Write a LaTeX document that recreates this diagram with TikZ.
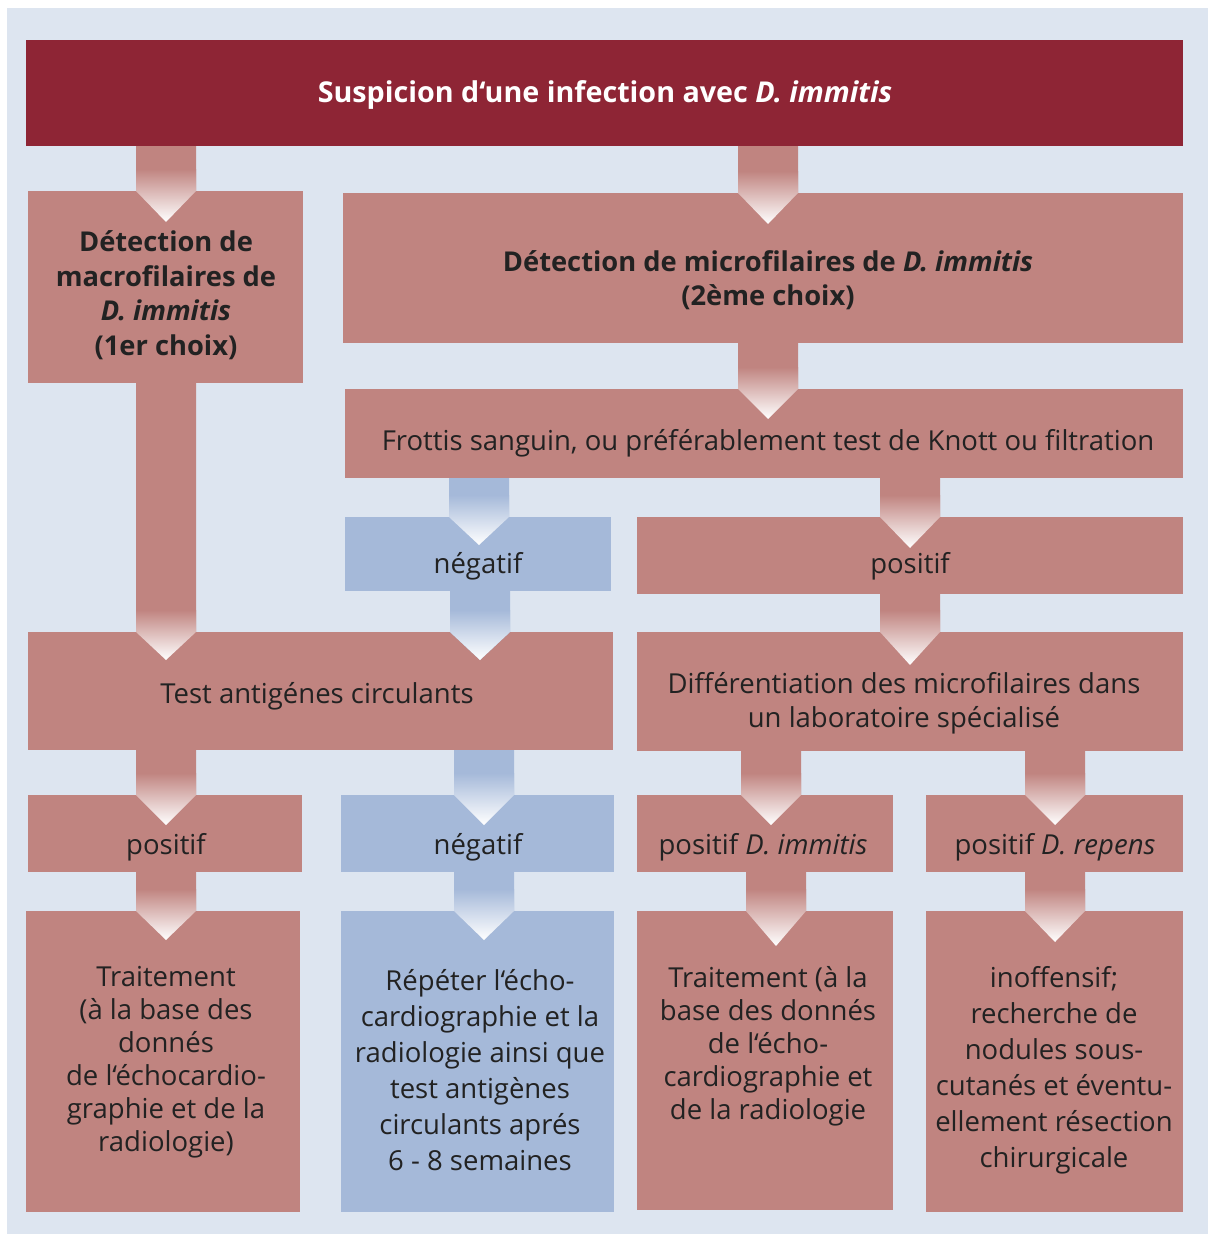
\documentclass[tikz,border=0pt]{standalone}
\usepackage{fontspec}
\setmainfont{Open Sans}
\usetikzlibrary{calc}
\definecolor{titlec}{HTML}{8E2535}
\definecolor{pinkc}{HTML}{C08480}
\definecolor{bluec}{HTML}{A5B9D9}
\definecolor{bgc}{HTML}{DDE5F0}
\definecolor{txtc}{HTML}{222222}
\tikzset{
  boxshape/.style={rectangle, inner sep=0pt, outer sep=0pt, draw=none},
  txt/.style={inner sep=0pt, align=center, text=txtc, font=\fontsize{27.5}{34}\selectfont},
  btxt/.style={txt, font=\bfseries\fontsize{27.3}{34.5}\selectfont},
}
% #1 name, #2 x1, #3 y1, #4 x2, #5 y2, #6 colour
\newcommand\mybox[6]{%
  \node[boxshape, fill=#6, minimum width={(#4-#2)*1pt}, minimum height={(#5-#3)*1pt}]
    (#1) at ({(#2+#4)/2},{-(#3+#5)/2}) {};}
% #1 from, #2 to, #3 x centre, #4 colour, #5 tip depth
\newcommand\flowarrow[5]{%
  \fill[#4] let \p1=(#1.south), \p2=(#2.north) in
    ({(#3-30)*1pt},\y1) -- ({(#3+30)*1pt},\y1) -- ({(#3+30)*1pt},\y2)
    -- ({#3*1pt},{\y2-#5*1pt}) -- ({(#3-30)*1pt},\y2) -- cycle;
  \shade[top color=#4, bottom color=white] let \p2=(#2.north) in
    ({(#3-30)*1pt},{\y2+22pt}) -- ({(#3+30)*1pt},{\y2+22pt}) -- ({(#3+30)*1pt},\y2)
    -- ({#3*1pt},{\y2-#5*1pt}) -- ({(#3-30)*1pt},\y2) -- cycle;}
\begin{document}
\begin{tikzpicture}[x=1pt,y=1pt]
\useasboundingbox (0,0) rectangle (1208,-1234);
\fill[white] (0,0) rectangle (1208,-1234);
\fill[bgc] (7,-8) rectangle (1208,-1234);
% boxes
\mybox{title}{26}{40}{1183}{146}{titlec}
\mybox{macro}{28}{191}{303}{383}{pinkc}
\mybox{micro}{343}{193}{1183}{343}{pinkc}
\mybox{frottis}{345}{389}{1183}{478}{pinkc}
\mybox{negA}{345}{517}{611}{591}{bluec}
\mybox{posA}{637}{517}{1183}{594}{pinkc}
\mybox{antig}{28}{632}{613}{750}{pinkc}
\mybox{diff}{637}{632}{1183}{751}{pinkc}
\mybox{posB}{28}{795}{302}{872}{pinkc}
\mybox{negB}{341}{795}{614}{872}{bluec}
\mybox{posDI}{637}{795}{893}{872}{pinkc}
\mybox{posDR}{926}{795}{1183}{872}{pinkc}
\mybox{traitA}{26}{911}{300}{1212}{pinkc}
\mybox{repeter}{341}{911}{614}{1212}{bluec}
\mybox{traitB}{637}{911}{893}{1210}{pinkc}
\mybox{inoff}{926}{911}{1183}{1212}{pinkc}
% arrows
\flowarrow{title}{macro}{166}{pinkc}{31}
\flowarrow{title}{micro}{768}{pinkc}{31}
\flowarrow{micro}{frottis}{768}{pinkc}{30}
\flowarrow{macro}{antig}{166}{pinkc}{28}
\flowarrow{frottis}{negA}{479}{bluec}{28}
\flowarrow{frottis}{posA}{910}{pinkc}{31}
\flowarrow{negA}{antig}{480}{bluec}{28}
\flowarrow{posA}{diff}{910}{pinkc}{33}
\flowarrow{antig}{posB}{166}{pinkc}{30}
\flowarrow{antig}{negB}{484}{bluec}{30}
\flowarrow{diff}{posDI}{771}{pinkc}{30}
\flowarrow{diff}{posDR}{1055}{pinkc}{30}
\flowarrow{posB}{traitA}{166}{pinkc}{29}
\flowarrow{negB}{repeter}{484}{bluec}{29}
\flowarrow{posDI}{traitB}{776}{pinkc}{35}
\flowarrow{posDR}{inoff}{1055}{pinkc}{31}
% texts
\node[btxt, text=white, font=\bfseries\fontsize{28.7}{34}\selectfont] (ttitle) at (605,-95) {Suspicion d‘une infection avec \textit{D. immitis}};
\node[btxt] (tmacro) at (166,-295) {Détection de\\macrofilaires de\\\textit{D. immitis}\\(1er choix)};
\node[btxt] (tmicro) at (768,-280) {Détection de microfilaires de \textit{D. immitis}\\(2ème choix)};
\node[txt] (tfrottis) at (768,-443) {Frottis sanguin, ou préférablement test de Knott ou filtration};
\node[txt] (tnegA) at (478,-566) {négatif};
\node[txt] (tposA) at (910,-566) {positif};
\node[txt] (tantig) at (317,-696) {Test antigénes circulants};
\node[txt] (tdiff) at (904,-703) {Différentiation des microfilaires dans\\un laboratoire spécialisé};
\node[txt] (tposB) at (166,-847) {positif};
\node[txt] (tnegB) at (478,-847) {négatif};
\node[txt] (tposDI) at (763,-847) {positif \textit{D. immitis}};
\node[txt] (tposDR) at (1055,-847) {positif \textit{D. repens}};
\node[txt, font=\fontsize{27.5}{33}\selectfont] (ttraitA) at (166,-1062) {Traitement\\(à la base des\\donnés\\de l‘échocardio-\\graphie et de la\\radiologie)};
\node[txt, font=\fontsize{27.5}{36}\selectfont] (trepeter) at (480,-1070) {Répéter l‘écho-\\cardiographie et la\\radiologie ainsi que\\test antigènes\\circulants aprés\\6 - 8 semaines};
\node[txt, font=\fontsize{27.5}{33}\selectfont] (ttraitB) at (768,-1046) {Traitement (à la\\base des donnés\\de l‘écho-\\cardiographie et\\de la radiologie};
\node[txt, font=\fontsize{27.5}{36}\selectfont] (tinoff) at (1054,-1070) {inoffensif;\\recherche de\\nodules sous-\\cutanés et éventu-\\ellement résection\\chirurgicale};
\end{tikzpicture}
\end{document}
